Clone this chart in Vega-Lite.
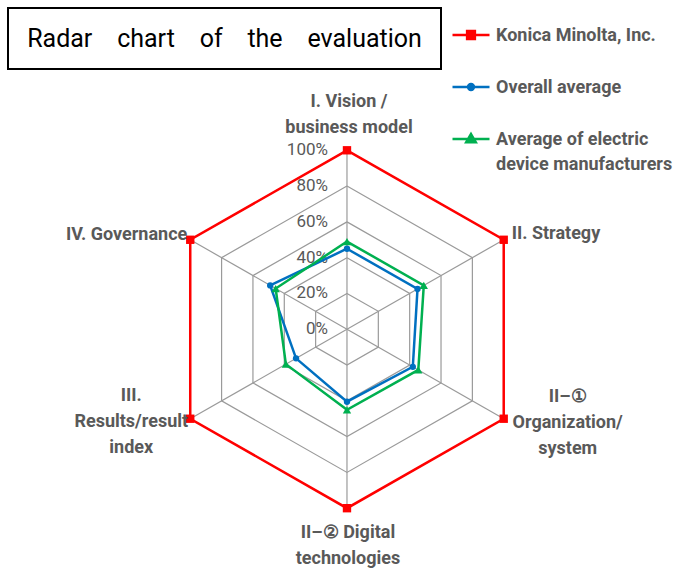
{
  "$schema": "https://vega.github.io/schema/vega-lite/v6.json",
  "padding": {"left": 7, "top": 7, "right": 0, "bottom": 0},
  "spacing": 2,
  "config": {"view": {"stroke": null}, "font": "Roboto"},
  "datasets": {
    "series": [
      {"series": "Konica Minolta, Inc.", "axis": "I. Vision / business model", "k": 0, "value": 100},
      {"series": "Konica Minolta, Inc.", "axis": "II. Strategy", "k": 1, "value": 100},
      {"series": "Konica Minolta, Inc.", "axis": "II-① Organization/ system", "k": 2, "value": 100},
      {"series": "Konica Minolta, Inc.", "axis": "II-② Digital technologies", "k": 3, "value": 100},
      {"series": "Konica Minolta, Inc.", "axis": "III. Results/result index", "k": 4, "value": 100},
      {"series": "Konica Minolta, Inc.", "axis": "IV. Governance", "k": 5, "value": 100},
      {"series": "Konica Minolta, Inc.", "axis": "I. Vision / business model", "k": 6, "value": 100},
      {"series": "Overall average", "axis": "I. Vision / business model", "k": 0, "value": 45},
      {"series": "Overall average", "axis": "II. Strategy", "k": 1, "value": 45},
      {"series": "Overall average", "axis": "II-① Organization/ system", "k": 2, "value": 42},
      {"series": "Overall average", "axis": "II-② Digital technologies", "k": 3, "value": 40.5},
      {"series": "Overall average", "axis": "III. Results/result index", "k": 4, "value": 32.5},
      {"series": "Overall average", "axis": "IV. Governance", "k": 5, "value": 49},
      {"series": "Overall average", "axis": "I. Vision / business model", "k": 6, "value": 45},
      {"series": "Average of electric device manufacturers", "axis": "I. Vision / business model", "k": 0, "value": 49},
      {"series": "Average of electric device manufacturers", "axis": "II. Strategy", "k": 1, "value": 49},
      {"series": "Average of electric device manufacturers", "axis": "II-① Organization/ system", "k": 2, "value": 45.5},
      {"series": "Average of electric device manufacturers", "axis": "II-② Digital technologies", "k": 3, "value": 45},
      {"series": "Average of electric device manufacturers", "axis": "III. Results/result index", "k": 4, "value": 39},
      {"series": "Average of electric device manufacturers", "axis": "IV. Governance", "k": 5, "value": 45.5},
      {"series": "Average of electric device manufacturers", "axis": "I. Vision / business model", "k": 6, "value": 49}
    ],
    "grid": [
      {"level": 20, "k": 0}, {"level": 20, "k": 1}, {"level": 20, "k": 2}, {"level": 20, "k": 3}, {"level": 20, "k": 4}, {"level": 20, "k": 5}, {"level": 20, "k": 6},
      {"level": 40, "k": 0}, {"level": 40, "k": 1}, {"level": 40, "k": 2}, {"level": 40, "k": 3}, {"level": 40, "k": 4}, {"level": 40, "k": 5}, {"level": 40, "k": 6},
      {"level": 60, "k": 0}, {"level": 60, "k": 1}, {"level": 60, "k": 2}, {"level": 60, "k": 3}, {"level": 60, "k": 4}, {"level": 60, "k": 5}, {"level": 60, "k": 6},
      {"level": 80, "k": 0}, {"level": 80, "k": 1}, {"level": 80, "k": 2}, {"level": 80, "k": 3}, {"level": 80, "k": 4}, {"level": 80, "k": 5}, {"level": 80, "k": 6},
      {"level": 100, "k": 0}, {"level": 100, "k": 1}, {"level": 100, "k": 2}, {"level": 100, "k": 3}, {"level": 100, "k": 4}, {"level": 100, "k": 5}, {"level": 100, "k": 6}
    ],
    "axes": [
      {"k": 0, "label": ["I. Vision /", "business model"]},
      {"k": 1, "label": ["II. Strategy"]},
      {"k": 2, "label": ["II–①", "Organization/", "system"]},
      {"k": 3, "label": ["II–② Digital", "technologies"]},
      {"k": 4, "label": ["III.", "Results/result", "index"]},
      {"k": 5, "label": ["IV. Governance"]}
    ],
    "ticks": [
      {"level": 0, "label": "0%"},
      {"level": 20, "label": "20%"},
      {"level": 40, "label": "40%"},
      {"level": 60, "label": "60%"},
      {"level": 80, "label": "80%"},
      {"level": 100, "label": "100%"}
    ],
    "title": [{"t": "Radar \u00a0\u00a0\u00a0chart \u00a0\u00a0\u00a0of \u00a0\u00a0\u00a0the \u00a0\u00a0\u00a0evaluation"}]
  },
  "vconcat": [
    {
      "width": 433,
      "height": 61,
      "view": {"stroke": "#000000", "strokeWidth": 2},
      "data": {"name": "title"},
      "mark": {"type": "text", "font": "Roboto", "fontSize": 25, "color": "#000000"},
      "encoding": {"text": {"field": "t", "type": "nominal"}}
    },
    {
      "width": 670,
      "height": 500,
      "layer": [
        {
          "data": {"name": "grid"},
          "transform": [
            {"calculate": "datum.level*sin(datum.k*PI/3)", "as": "px"},
            {"calculate": "datum.level*cos(datum.k*PI/3)", "as": "py"}
          ],
          "mark": {"type": "line", "color": "#9a9a9a", "strokeWidth": 1.2},
          "encoding": {
            "x": {"field": "px", "type": "quantitative", "scale": {"domain": [-187.3, 182.9], "nice": false, "zero": false}, "axis": null},
            "y": {"field": "py", "type": "quantitative", "scale": {"domain": [-135.65, 143.75], "nice": false, "zero": false}, "axis": null},
            "detail": {"field": "level", "type": "nominal"},
            "order": {"field": "k", "type": "quantitative"}
          }
        },
        {
          "data": {"name": "axes"},
          "transform": [
            {"calculate": "100*sin(datum.k*PI/3)", "as": "px"},
            {"calculate": "100*cos(datum.k*PI/3)", "as": "py"}
          ],
          "mark": {"type": "rule", "color": "#9a9a9a", "strokeWidth": 1.2},
          "encoding": {
            "x": {"field": "px", "type": "quantitative", "scale": {"domain": [-187.3, 182.9], "nice": false, "zero": false}, "axis": null},
            "y": {"field": "py", "type": "quantitative", "scale": {"domain": [-135.65, 143.75], "nice": false, "zero": false}, "axis": null},
            "x2": {"datum": 0},
            "y2": {"datum": 0}
          }
        },
        {
          "data": {"name": "ticks"},
          "mark": {"type": "text", "align": "right", "baseline": "middle", "dx": -19, "fontSize": 17, "font": "Roboto", "color": "#595959"},
          "encoding": {
            "x": {"datum": 0, "type": "quantitative", "scale": {"domain": [-187.3, 182.9], "nice": false, "zero": false}, "axis": null},
            "y": {"field": "level", "type": "quantitative", "scale": {"domain": [-135.65, 143.75], "nice": false, "zero": false}, "axis": null},
            "text": {"field": "label", "type": "nominal"}
          }
        },
        {
          "data": {"name": "series"},
          "transform": [
            {"calculate": "datum.value*sin(datum.k*PI/3)", "as": "px"},
            {"calculate": "datum.value*cos(datum.k*PI/3)", "as": "py"}
          ],
          "mark": {"type": "line", "strokeWidth": 2.5},
          "encoding": {
            "x": {"field": "px", "type": "quantitative", "scale": {"domain": [-187.3, 182.9], "nice": false, "zero": false}, "axis": null},
            "y": {"field": "py", "type": "quantitative", "scale": {"domain": [-135.65, 143.75], "nice": false, "zero": false}, "axis": null},
            "order": {"field": "k", "type": "quantitative"},
            "color": {
              "field": "series",
              "type": "nominal",
              "scale": {
                "domain": ["Konica Minolta, Inc.", "Overall average", "Average of electric device manufacturers"],
                "range": ["#FF0000", "#0070C0", "#00B050"]
              },
              "legend": {
                "orient": "none",
                "legendX": 443,
                "legendY": 7,
                "title": null,
                "symbolSize": 1369,
                "symbolStrokeWidth": 2.5,
                "labelFont": "Roboto",
                "labelFontWeight": "bold",
                "labelFontSize": 18,
                "labelColor": "#595959",
                "labelOffset": 5,
                "labelLimit": 300,
                "labelBaseline": "alphabetic",
                "rowPadding": 22,
                "labelExpr": "datum.label == 'Average of electric device manufacturers' ? ['Average of electric', 'device manufacturers'] : datum.label",
                "encode": {
                  "symbols": {
                    "update": {
                      "shape": {"signal": "datum.value == 'Konica Minolta, Inc.' ? 'M-1,0H1M-0.21,-0.21H0.21V0.21H-0.21Z' : datum.value == 'Overall average' ? 'M-1,0H1M-0.16,0A0.16,0.16,0,1,1,0.16,0A0.16,0.16,0,1,1,-0.16,0Z' : 'M-1,0H1M0,-0.27L0.26,0.18L-0.26,0.18Z'"},
                      "fill": {"signal": "scale('color', datum.value)"},
                      "stroke": {"signal": "scale('color', datum.value)"},
                      "opacity": {"value": 1}
                    }
                  },
                  "labels": {
                    "update": {
                      "dy": {"value": 6},
                      "lineHeight": {"value": 25}
                    }
                  }
                }
              }
            }
          }
        },
        {
          "data": {"name": "series"},
          "transform": [
            {"filter": "datum.k < 6 && datum.series == 'Konica Minolta, Inc.'"},
            {"calculate": "datum.value*sin(datum.k*PI/3)", "as": "px"},
            {"calculate": "datum.value*cos(datum.k*PI/3)", "as": "py"}
          ],
          "mark": {"type": "point", "shape": "square", "filled": true, "opacity": 1, "color": "#FF0000", "size": 70},
          "encoding": {
            "x": {"field": "px", "type": "quantitative", "scale": {"domain": [-187.3, 182.9], "nice": false, "zero": false}, "axis": null},
            "y": {"field": "py", "type": "quantitative", "scale": {"domain": [-135.65, 143.75], "nice": false, "zero": false}, "axis": null}
          }
        },
        {
          "data": {"name": "series"},
          "transform": [
            {"filter": "datum.k < 6 && datum.series == 'Overall average'"},
            {"calculate": "datum.value*sin(datum.k*PI/3)", "as": "px"},
            {"calculate": "datum.value*cos(datum.k*PI/3)", "as": "py"}
          ],
          "mark": {"type": "point", "shape": "circle", "filled": true, "opacity": 1, "color": "#0070C0", "size": 40},
          "encoding": {
            "x": {"field": "px", "type": "quantitative", "scale": {"domain": [-187.3, 182.9], "nice": false, "zero": false}, "axis": null},
            "y": {"field": "py", "type": "quantitative", "scale": {"domain": [-135.65, 143.75], "nice": false, "zero": false}, "axis": null}
          }
        },
        {
          "data": {"name": "series"},
          "transform": [
            {"filter": "datum.k < 6 && datum.series == 'Average of electric device manufacturers'"},
            {"calculate": "datum.value*sin(datum.k*PI/3)", "as": "px"},
            {"calculate": "datum.value*cos(datum.k*PI/3)", "as": "py"}
          ],
          "mark": {"type": "point", "shape": "triangle-up", "filled": true, "opacity": 1, "color": "#00B050", "size": 70},
          "encoding": {
            "x": {"field": "px", "type": "quantitative", "scale": {"domain": [-187.3, 182.9], "nice": false, "zero": false}, "axis": null},
            "y": {"field": "py", "type": "quantitative", "scale": {"domain": [-135.65, 143.75], "nice": false, "zero": false}, "axis": null}
          }
        },
        {
          "data": {"name": "axes"},
          "transform": [
            {"filter": "datum.k == 0"},
            {"calculate": "100*sin(datum.k*PI/3)", "as": "px"},
            {"calculate": "100*cos(datum.k*PI/3)", "as": "py"}
          ],
          "mark": {"type": "text", "align": "center", "baseline": "middle", "dx": 2, "dy": -48, "lineHeight": 26, "font": "Roboto", "fontWeight": "bold", "fontSize": 18, "color": "#595959"},
          "encoding": {
            "x": {"field": "px", "type": "quantitative", "scale": {"domain": [-187.3, 182.9], "nice": false, "zero": false}, "axis": null},
            "y": {"field": "py", "type": "quantitative", "scale": {"domain": [-135.65, 143.75], "nice": false, "zero": false}, "axis": null},
            "text": {"field": "label", "type": "nominal"}
          }
        },
        {
          "data": {"name": "axes"},
          "transform": [
            {"filter": "datum.k == 1"},
            {"calculate": "100*sin(datum.k*PI/3)", "as": "px"},
            {"calculate": "100*cos(datum.k*PI/3)", "as": "py"}
          ],
          "mark": {"type": "text", "align": "left", "baseline": "middle", "dx": 8, "dy": -6, "lineHeight": 26, "font": "Roboto", "fontWeight": "bold", "fontSize": 18, "color": "#595959"},
          "encoding": {
            "x": {"field": "px", "type": "quantitative", "scale": {"domain": [-187.3, 182.9], "nice": false, "zero": false}, "axis": null},
            "y": {"field": "py", "type": "quantitative", "scale": {"domain": [-135.65, 143.75], "nice": false, "zero": false}, "axis": null},
            "text": {"field": "label", "type": "nominal"}
          }
        },
        {
          "data": {"name": "axes"},
          "transform": [
            {"filter": "datum.k == 2"},
            {"calculate": "100*sin(datum.k*PI/3)", "as": "px"},
            {"calculate": "100*cos(datum.k*PI/3)", "as": "py"}
          ],
          "mark": {"type": "text", "align": "center", "baseline": "middle", "dx": 64, "dy": -22, "lineHeight": 26, "font": "Roboto", "fontWeight": "bold", "fontSize": 18, "color": "#595959"},
          "encoding": {
            "x": {"field": "px", "type": "quantitative", "scale": {"domain": [-187.3, 182.9], "nice": false, "zero": false}, "axis": null},
            "y": {"field": "py", "type": "quantitative", "scale": {"domain": [-135.65, 143.75], "nice": false, "zero": false}, "axis": null},
            "text": {"field": "label", "type": "nominal"}
          }
        },
        {
          "data": {"name": "axes"},
          "transform": [
            {"filter": "datum.k == 3"},
            {"calculate": "100*sin(datum.k*PI/3)", "as": "px"},
            {"calculate": "100*cos(datum.k*PI/3)", "as": "py"}
          ],
          "mark": {"type": "text", "align": "center", "baseline": "middle", "dx": 1, "dy": 25, "lineHeight": 26, "font": "Roboto", "fontWeight": "bold", "fontSize": 18, "color": "#595959"},
          "encoding": {
            "x": {"field": "px", "type": "quantitative", "scale": {"domain": [-187.3, 182.9], "nice": false, "zero": false}, "axis": null},
            "y": {"field": "py", "type": "quantitative", "scale": {"domain": [-135.65, 143.75], "nice": false, "zero": false}, "axis": null},
            "text": {"field": "label", "type": "nominal"}
          }
        },
        {
          "data": {"name": "axes"},
          "transform": [
            {"filter": "datum.k == 4"},
            {"calculate": "100*sin(datum.k*PI/3)", "as": "px"},
            {"calculate": "100*cos(datum.k*PI/3)", "as": "py"}
          ],
          "mark": {"type": "text", "align": "center", "baseline": "middle", "dx": -59, "dy": -23, "lineHeight": 26, "font": "Roboto", "fontWeight": "bold", "fontSize": 18, "color": "#595959"},
          "encoding": {
            "x": {"field": "px", "type": "quantitative", "scale": {"domain": [-187.3, 182.9], "nice": false, "zero": false}, "axis": null},
            "y": {"field": "py", "type": "quantitative", "scale": {"domain": [-135.65, 143.75], "nice": false, "zero": false}, "axis": null},
            "text": {"field": "label", "type": "nominal"}
          }
        },
        {
          "data": {"name": "axes"},
          "transform": [
            {"filter": "datum.k == 5"},
            {"calculate": "100*sin(datum.k*PI/3)", "as": "px"},
            {"calculate": "100*cos(datum.k*PI/3)", "as": "py"}
          ],
          "mark": {"type": "text", "align": "right", "baseline": "middle", "dx": -3, "dy": -5, "lineHeight": 26, "font": "Roboto", "fontWeight": "bold", "fontSize": 18, "color": "#595959"},
          "encoding": {
            "x": {"field": "px", "type": "quantitative", "scale": {"domain": [-187.3, 182.9], "nice": false, "zero": false}, "axis": null},
            "y": {"field": "py", "type": "quantitative", "scale": {"domain": [-135.65, 143.75], "nice": false, "zero": false}, "axis": null},
            "text": {"field": "label", "type": "nominal"}
          }
        }
      ]
    }
  ]
}
